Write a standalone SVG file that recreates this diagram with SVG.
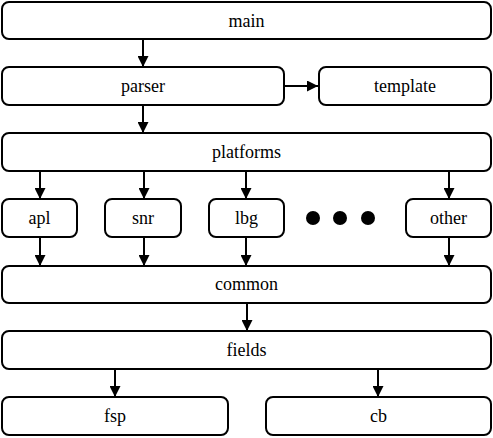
<svg xmlns="http://www.w3.org/2000/svg" width="493" height="438" viewBox="0 0 493 438">
<defs>
<marker id="a" viewBox="0 0 10 10" refX="10" refY="5" markerWidth="6" markerHeight="5.5" orient="auto" markerUnits="strokeWidth">
<path d="M0,0 L10,5 L0,10 z" fill="#000"/>
</marker>
</defs>
<rect width="493" height="438" fill="#fff"/>
<g id="connectors" stroke="#000" stroke-width="2" marker-end="url(#a)">
<line x1="143" y1="39" x2="143" y2="67"/>
<line x1="284" y1="86" x2="318" y2="86"/>
<line x1="143" y1="106" x2="143" y2="133"/>
<line x1="40" y1="172" x2="40" y2="199"/>
<line x1="144" y1="172" x2="144" y2="199"/>
<line x1="246" y1="172" x2="246" y2="199"/>
<line x1="449" y1="172" x2="449" y2="199"/>
<line x1="40" y1="238" x2="40" y2="266"/>
<line x1="144" y1="238" x2="144" y2="266"/>
<line x1="246" y1="238" x2="246" y2="266"/>
<line x1="449" y1="238" x2="449" y2="266"/>
<line x1="247" y1="304" x2="247" y2="331"/>
<line x1="115" y1="370" x2="115" y2="397"/>
<line x1="378" y1="370" x2="378" y2="397"/>
</g>
<g id="main"><rect x="2" y="2" width="489" height="37" rx="7" fill="#fff" stroke="#000" stroke-width="2"/><text x="246.5" y="26.5" font-family="'Liberation Serif'" font-size="18" text-anchor="middle">main</text></g>
<g id="parser"><rect x="2" y="67" width="282" height="38" rx="7" fill="#fff" stroke="#000" stroke-width="2"/><text x="143" y="92" font-family="'Liberation Serif'" font-size="18" text-anchor="middle">parser</text></g>
<g id="template"><rect x="319" y="67" width="172" height="38" rx="7" fill="#fff" stroke="#000" stroke-width="2"/><text x="405" y="92" font-family="'Liberation Serif'" font-size="18" text-anchor="middle">template</text></g>
<g id="platforms"><rect x="2" y="133" width="489" height="38" rx="7" fill="#fff" stroke="#000" stroke-width="2"/><text x="246.5" y="158" font-family="'Liberation Serif'" font-size="18" text-anchor="middle">platforms</text></g>
<g id="apl"><rect x="2" y="199" width="75" height="38" rx="7" fill="#fff" stroke="#000" stroke-width="2"/><text x="39.5" y="224" font-family="'Liberation Serif'" font-size="18" text-anchor="middle">apl</text></g>
<g id="snr"><rect x="105" y="199" width="76" height="38" rx="7" fill="#fff" stroke="#000" stroke-width="2"/><text x="143" y="224" font-family="'Liberation Serif'" font-size="18" text-anchor="middle">snr</text></g>
<g id="lbg"><rect x="209" y="199" width="75" height="38" rx="7" fill="#fff" stroke="#000" stroke-width="2"/><text x="246.5" y="224" font-family="'Liberation Serif'" font-size="18" text-anchor="middle">lbg</text></g>
<g id="dots"><circle cx="313" cy="218" r="7"/><circle cx="340" cy="218" r="7"/><circle cx="368" cy="218" r="7"/></g>
<g id="other"><rect x="406" y="199" width="85" height="38" rx="7" fill="#fff" stroke="#000" stroke-width="2"/><text x="448.5" y="224" font-family="'Liberation Serif'" font-size="18" text-anchor="middle">other</text></g>
<g id="common"><rect x="2" y="266" width="489" height="37" rx="7" fill="#fff" stroke="#000" stroke-width="2"/><text x="246.5" y="290" font-family="'Liberation Serif'" font-size="18" text-anchor="middle">common</text></g>
<g id="fields"><rect x="2" y="331" width="489" height="38" rx="7" fill="#fff" stroke="#000" stroke-width="2"/><text x="246.5" y="356" font-family="'Liberation Serif'" font-size="18" text-anchor="middle">fields</text></g>
<g id="fsp"><rect x="2" y="397" width="226" height="38" rx="7" fill="#fff" stroke="#000" stroke-width="2"/><text x="115" y="422" font-family="'Liberation Serif'" font-size="18" text-anchor="middle">fsp</text></g>
<g id="cb"><rect x="266" y="397" width="225" height="38" rx="7" fill="#fff" stroke="#000" stroke-width="2"/><text x="378.5" y="422" font-family="'Liberation Serif'" font-size="18" text-anchor="middle">cb</text></g>
</svg>
